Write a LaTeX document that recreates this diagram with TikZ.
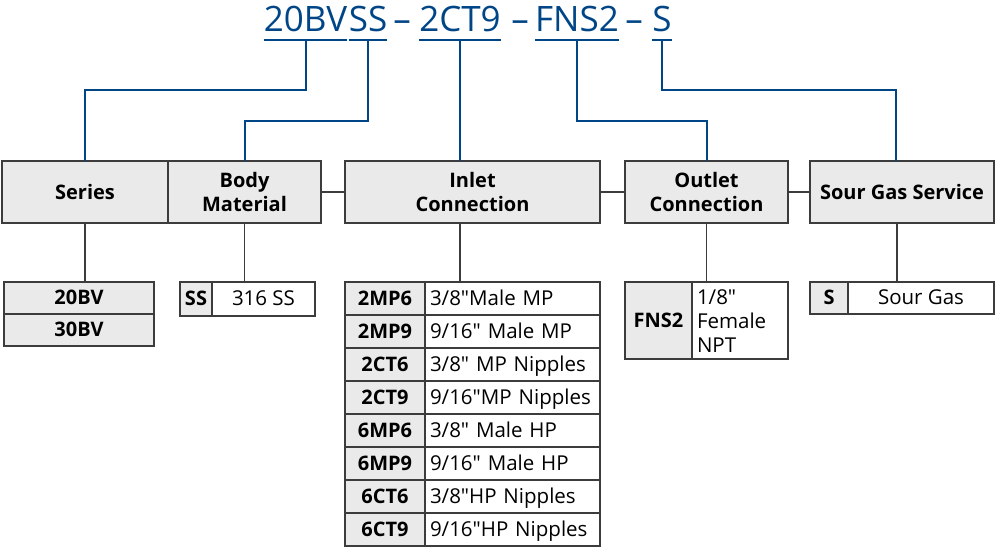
\documentclass[tikz,border=0pt]{standalone}
\usepackage{fontspec}
\setmainfont{Open Sans}
\newfontfamily\descfont{Open Sans}
\usepackage{xcolor}
\usepackage{tikz}
\usetikzlibrary{positioning}

\definecolor{codeblue}{RGB}{0,70,135}
\definecolor{linegray}{RGB}{60,60,60}
\definecolor{cellgray}{RGB}{234,234,234}

\begin{document}
\begin{tikzpicture}[
    x=1pt, y=-1pt,
    node distance=0pt,
    codepart/.style={font=\fontsize{35}{40}\selectfont, text=codeblue, inner sep=0pt, anchor=base},
    header/.style={rectangle, draw=linegray, fill=cellgray, line width=1.2pt, outer sep=0pt, inner sep=0pt, font=\bfseries\fontsize{20}{24}\selectfont, align=center, minimum height=62pt},
    codecell/.style={rectangle, draw=linegray, fill=cellgray, line width=1.2pt, outer sep=0pt, inner sep=0pt, text height=18pt, text depth=5pt, font=\bfseries\fontsize{20}{24}\selectfont, minimum height=33pt},
    desccell/.style={rectangle, draw=linegray, fill=white, line width=1.2pt, outer sep=0pt, inner sep=0pt, text height=18pt, text depth=5pt, font=\descfont\fontsize{20.5}{24}\selectfont, minimum height=33pt},
    link/.style={draw=codeblue, line width=2pt},
    line/.style={draw=linegray, line width=1.2pt}
]
\useasboundingbox (0,0) rectangle (995,548);

% Model code
\node[codepart] (t1) at (305.5,32) {20BV};
\node[codepart] (t2) at (368,32) {SS};
\node[codepart] (d1) at (402,32) {–};
\node[codepart] (t3) at (460,32) {2CT9};
\node[codepart] (d2) at (520,32) {–};
\node[codepart] (t4) at (577,32) {FNS2};
\node[codepart] (d3) at (634,32) {–};
\node[codepart] (t5) at (662,32) {S};

% Headers
\node[header, minimum width=166pt] (series) at (85,192) {Series};
\node[header, minimum width=153pt] (body) at (244.5,192) {Body\\Material};
\node[header, minimum width=255pt] (inlet) at (472.5,192) {Inlet\\Connection};
\node[header, minimum width=163pt] (outlet) at (706.5,192) {Outlet\\Connection};
\node[header, minimum width=184pt] (sour) at (902,192) {Sour Gas Service};

% Series options
\node[codecell, minimum width=150pt, minimum height=32pt] (s20) at (79,298) {20BV};
\node[codecell, minimum width=150pt, minimum height=32pt, below=of s20] (s30) {30BV};

% Body material options
\node[codecell, minimum width=32pt, minimum height=34pt] (ss) at (196,299) {SS};
\node[desccell, minimum width=103pt, minimum height=34pt, right=of ss] (ssd) {316 SS};

% Inlet options
\node[codecell, minimum width=80pt] (in1) at (385,298.5) {2MP6};
\node[codecell, minimum width=80pt, below=of in1] (in2) {2MP9};
\node[codecell, minimum width=80pt, below=of in2] (in3) {2CT6};
\node[codecell, minimum width=80pt, below=of in3] (in4) {2CT9};
\node[codecell, minimum width=80pt, below=of in4] (in5) {6MP6};
\node[codecell, minimum width=80pt, below=of in5] (in6) {6MP9};
\node[codecell, minimum width=80pt, below=of in6] (in7) {6CT6};
\node[codecell, minimum width=80pt, below=of in7] (in8) {6CT9};
\node[desccell, text width=165pt, inner xsep=5pt, align=left, right=of in1] (in1d) {3/8"Male MP};
\node[desccell, text width=165pt, inner xsep=5pt, align=left, right=of in2] (in2d) {9/16" Male MP};
\node[desccell, text width=165pt, inner xsep=5pt, align=left, right=of in3] (in3d) {3/8" MP Nipples};
\node[desccell, text width=165pt, inner xsep=5pt, align=left, right=of in4] (in4d) {9/16"MP Nipples};
\node[desccell, text width=165pt, inner xsep=5pt, align=left, right=of in5] (in5d) {3/8" Male HP};
\node[desccell, text width=165pt, inner xsep=5pt, align=left, right=of in6] (in6d) {9/16" Male HP};
\node[desccell, text width=165pt, inner xsep=5pt, align=left, right=of in7] (in7d) {3/8"HP Nipples};
\node[desccell, text width=165pt, inner xsep=5pt, align=left, right=of in8] (in8d) {9/16"HP Nipples};

% Outlet options
\node[codecell, minimum width=67pt, minimum height=77pt] (fns) at (658.5,320.5) {FNS2};
\node[desccell, text width=86pt, inner xsep=5pt, align=left, text height=15pt, text depth=48pt, minimum height=77pt, right=of fns] (fnsd) {1/8"\\Female\\NPT};

% Sour gas options
\node[codecell, minimum width=38pt, minimum height=32pt] (sg) at (829,298) {S};
\node[desccell, minimum width=146pt, minimum height=32pt, right=of sg] (sgd) {Sour Gas};

% Code links
\draw[link] ([yshift=-8pt]t1.base west) -- ([yshift=-8pt]t1.base east);
\draw[link] ([yshift=-8pt]t2.base west) -- ([yshift=-8pt]t2.base east);
\draw[link] ([yshift=-8pt]t3.base west) -- ([yshift=-8pt]t3.base east);
\draw[link] ([yshift=-8pt]t4.base west) -- ([yshift=-8pt]t4.base east);
\draw[link] ([yshift=-8pt]t5.base west) -- ([yshift=-8pt]t5.base east);
\draw[link] ([yshift=-8pt]t1.base) -- ++(0,50) -| (series.north);
\draw[link] ([yshift=-8pt]t2.base) -- ++(0,81) -| (body.north);
\draw[link] ([yshift=-8pt]t3.base) -- (t3.base |- inlet.north);
\draw[link] ([yshift=-8pt]t4.base) -- ++(0,81) -| (outlet.north);
\draw[link] ([yshift=-8pt]t5.base) -- ++(0,50) -| ([xshift=-6pt]sour.north);

% Header lines
\draw[line] (body) -- (inlet);
\draw[line] (inlet) -- (outlet);
\draw[line] (outlet) -- (sour);
\draw[line] (series.south) -- (series.south |- s20.north);
\draw[line] (body.south) -- (body.south |- ss.north);
\draw[line] (t3.base |- inlet.south) -- (t3.base |- in1.north);
\draw[line] (outlet.south) -- (outlet.south |- fns.north);
\draw[line] ([xshift=-5pt]sour.south) -- ([xshift=-5pt]sour.south |- sg.north);

\end{tikzpicture}
\end{document}
